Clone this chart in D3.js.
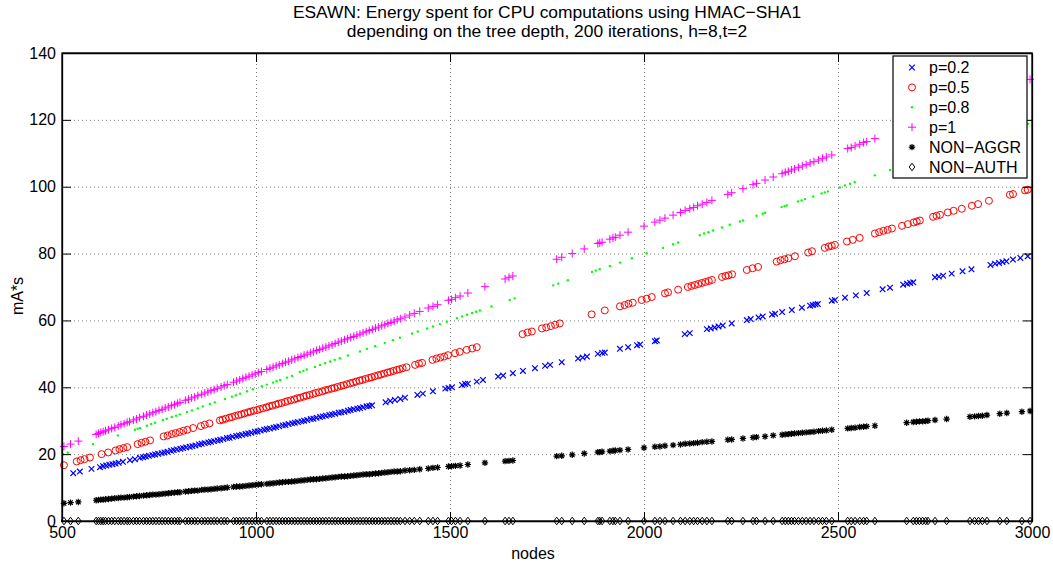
<!DOCTYPE html>
<html><head><meta charset="utf-8">
<script src="https://cdn.jsdelivr.net/npm/d3@7"></script>
<style>
body{margin:0;background:#fff}
svg{display:block}
text{font-family:"Liberation Sans",Arial,Helvetica,sans-serif;fill:#000}
</style>
</head><body>
<svg id="chart" width="1053" height="565"></svg>
<script>
// ---------------- DATA ----------------
const titleLines = ["ESAWN: Energy spent for CPU computations using HMAC\u2212SHA1",
                    "depending on the tree depth, 200 iterations, h=8,t=2"];
const xLabel = "nodes";
const yLabel = "mA*s";
const xTicks = [500, 1000, 1500, 2000, 2500, 3000];
const yTicks = [0, 20, 40, 60, 80, 100, 120, 140];
const seriesLabels = ["p=0.2", "p=0.5", "p=0.8", "p=1", "NON\u2212AGGR", "NON\u2212AUTH"];

// p=0.2
const nodesP02 = [
 529,546,576,598,606,614,622,630,638,646,
 657,675,688,701,709,716,724,733,740,748,
 757,764,772,781,788,796,805,812,820,829,
 836,844,853,860,868,877,884,892,901,908,
 916,925,932,940,949,956,964,973,980,988,
 997,1004,1012,1021,1028,1036,1045,1052,1060,1069,
 1076,1084,1093,1100,1108,1117,1124,1132,1141,1148,
 1156,1165,1172,1180,1189,1196,1204,1213,1220,1228,
 1237,1244,1252,1261,1268,1276,1285,1292,1299,1334,
 1346,1358,1372,1384,1416,1430,1456,1488,1496,1505,
 1531,1539,1546,1569,1585,1624,1637,1662,1688,1719,
 1745,1758,1788,1830,1842,1853,1881,1892,1899,1938,
 1959,1982,1990,2028,2033,2105,2118,2162,2172,2182,
 2192,2203,2226,2265,2275,2295,2306,2330,2338,2356,
 2381,2407,2428,2435,2442,2448,2484,2492,2518,2546,
 2574,2615,2634,2668,2678,2686,2694,2750,2760,2771,
 2793,2821,2844,2893,2905,2915,2924,2934,2951,2970,
 2989];
const valP02 = [
 14.3,14.8,15.6,16.1,16.4,16.6,16.8,17.0,17.2,17.4,
 17.7,18.2,18.5,18.9,19.1,19.3,19.5,19.7,19.9,20.1,
 20.3,20.5,20.7,21.0,21.2,21.4,21.6,21.8,22.0,22.2,
 22.4,22.6,22.9,23.1,23.3,23.5,23.7,23.9,24.1,24.3,
 24.5,24.8,24.9,25.2,25.4,25.6,25.8,26.0,26.2,26.4,
 26.7,26.8,27.1,27.3,27.5,27.7,27.9,28.1,28.3,28.6,
 28.7,29.0,29.2,29.4,29.6,29.8,30.0,30.2,30.5,30.6,
 30.9,31.1,31.3,31.5,31.7,31.9,32.1,32.4,32.5,32.7,
 33.0,33.2,33.4,33.6,33.8,34.0,34.3,34.4,34.6,35.5,
 35.9,36.2,36.5,36.9,37.7,38.1,38.8,39.6,39.8,40.0,
 40.7,41.0,41.1,41.7,42.2,43.2,43.5,44.2,44.9,45.7,
 46.4,46.7,47.5,48.6,48.9,49.2,50.0,50.3,50.4,51.5,
 52.0,52.6,52.8,53.8,54.0,55.9,56.2,57.4,57.6,57.9,
 58.2,58.5,59.1,60.1,60.4,60.9,61.2,61.8,62.0,62.5,
 63.1,63.8,64.4,64.6,64.8,64.9,65.9,66.1,66.8,67.5,
 68.2,69.3,69.8,70.7,71.0,71.2,71.4,72.9,73.1,73.4,
 74.0,74.7,75.3,76.6,77.0,77.2,77.5,77.7,78.2,78.7,
 79.2];

// p=0.5
const nodesP05 = [
 505,538,548,558,572,602,619,638,648,658,
 668,695,705,715,727,762,772,783,793,803,
 813,823,838,858,868,880,907,914,922,931,
 938,946,955,962,970,979,986,994,1003,1010,
 1018,1027,1034,1042,1051,1058,1066,1075,1082,1090,
 1099,1106,1114,1123,1130,1138,1147,1154,1162,1171,
 1178,1186,1195,1202,1210,1219,1226,1234,1243,1250,
 1258,1267,1274,1282,1291,1298,1306,1315,1322,1330,
 1339,1346,1354,1363,1370,1378,1388,1410,1420,1428,
 1455,1465,1475,1485,1495,1513,1525,1543,1557,1569,
 1687,1700,1711,1737,1748,1760,1771,1783,1865,1899,
 1938,1950,1960,1971,1994,2007,2020,2054,2062,2088,
 2113,2122,2131,2140,2149,2158,2167,2175,2201,2210,
 2218,2227,2265,2280,2294,2342,2352,2362,2372,2389,
 2423,2433,2466,2476,2484,2492,2523,2538,2556,2595,
 2606,2617,2628,2639,2665,2680,2695,2703,2711,2745,
 2754,2763,2783,2798,2819,2845,2861,2889,2943,2951,
 2982,2989];
const valP05 = [
 16.7,17.8,18.2,18.5,19.0,20.0,20.5,21.1,21.5,21.8,
 22.1,23.0,23.4,23.7,24.1,25.3,25.6,26.0,26.3,26.6,
 27.0,27.3,27.8,28.4,28.8,29.2,30.1,30.3,30.6,30.9,
 31.1,31.4,31.7,31.9,32.2,32.5,32.7,33.0,33.2,33.5,
 33.7,34.0,34.3,34.5,34.8,35.1,35.3,35.6,35.9,36.1,
 36.4,36.7,36.9,37.2,37.5,37.7,38.0,38.3,38.5,38.8,
 39.1,39.3,39.6,39.8,40.1,40.4,40.6,40.9,41.2,41.4,
 41.7,42.0,42.2,42.5,42.8,43.0,43.3,43.6,43.8,44.1,
 44.4,44.6,44.9,45.2,45.4,45.7,46.0,46.7,47.1,47.3,
 48.2,48.6,48.9,49.2,49.6,50.2,50.6,51.2,51.6,52.0,
 55.9,56.4,56.7,57.6,57.9,58.3,58.7,59.1,61.8,63.0,
 64.2,64.6,65.0,65.3,66.1,66.5,67.0,68.1,68.4,69.2,
 70.0,70.3,70.6,70.9,71.2,71.5,71.8,72.1,73.0,73.3,
 73.5,73.8,75.1,75.6,76.0,77.6,78.0,78.3,78.6,79.2,
 80.3,80.7,81.7,82.1,82.3,82.6,83.6,84.1,84.7,86.0,
 86.4,86.8,87.1,87.5,88.3,88.8,89.3,89.6,89.9,91.0,
 91.3,91.6,92.3,92.8,93.4,94.3,94.8,95.8,97.6,97.8,
 98.9,99.1];

// p=0.8
const nodesP08 = [
 503,515,580,644,688,695,701,719,730,740,
 760,770,783,794,804,822,835,850,863,881,
 894,920,938,948,959,977,992,1015,1028,1044,
 1053,1062,1080,1093,1113,1122,1131,1152,1165,1178,
 1191,1203,1216,1237,1268,1286,1307,1332,1353,1371,
 1402,1417,1441,1456,1474,1492,1518,1531,1544,1557,
 1567,1577,1607,1654,1667,1766,1779,1804,1866,1876,
 1886,1912,1938,1969,2007,2049,2075,2088,2144,2155,
 2166,2178,2201,2221,2247,2255,2290,2306,2312,2355,
 2362,2368,2397,2406,2415,2436,2458,2466,2474,2505,
 2518,2531,2543,2595,2634,2990];
const valP08 = [
 20.0,20.4,23.0,25.6,27.3,27.6,27.8,28.5,29.0,29.4,
 30.2,30.6,31.1,31.5,31.9,32.6,33.1,33.7,34.3,35.0,
 35.5,36.5,37.2,37.6,38.1,38.8,39.4,40.3,40.8,41.4,
 41.8,42.2,42.9,43.4,44.6,44.9,45.3,46.1,46.7,47.2,
 47.7,48.2,48.7,49.5,50.7,51.5,52.3,53.3,54.1,54.8,
 56.1,56.7,57.6,58.2,58.9,59.6,60.7,61.2,61.7,62.2,
 62.6,63.0,64.2,66.1,66.6,70.5,71.0,72.0,74.5,74.9,
 75.3,76.3,77.3,78.6,80.1,81.7,82.8,83.3,85.5,86.0,
 86.4,86.9,87.8,88.6,89.6,89.9,91.3,91.9,92.2,93.9,
 94.2,94.4,95.6,95.9,96.3,97.1,98.0,98.3,98.6,99.8,
 100.4,100.9,101.4,103.4,105.0,118.8];

// p=1, NON-AGGR and NON-AUTH share these node counts
const nodesAll = [
 505,522,542,588,594,600,606,612,620,628,
 636,645,652,660,668,674,684,692,700,710,
 718,726,734,742,750,758,766,774,782,790,
 798,804,818,826,834,842,850,860,868,876,
 884,892,900,910,918,926,942,950,958,966,
 974,982,990,998,1006,1014,1028,1036,1044,1052,
 1060,1068,1076,1084,1092,1100,1108,1116,1124,1132,
 1140,1148,1156,1164,1172,1180,1188,1196,1204,1212,
 1220,1228,1236,1244,1252,1260,1268,1276,1284,1292,
 1300,1308,1316,1324,1332,1340,1348,1356,1364,1372,
 1384,1396,1408,1422,1444,1456,1468,1496,1504,1514,
 1526,1546,1590,1642,1652,1662,1775,1788,1815,1846,
 1881,1886,1892,1912,1920,1926,1938,1959,2000,2028,
 2041,2054,2075,2094,2106,2118,2128,2138,2150,2162,
 2175,2216,2226,2255,2281,2290,2312,2333,2356,2364,
 2372,2380,2388,2398,2408,2418,2428,2438,2450,2460,
 2470,2484,2525,2534,2544,2556,2566,2574,2595,2677,
 2694,2702,2710,2718,2726,2732,2750,2780,2840,2852,
 2862,2872,2884,2917,2935,2974,2995];
const valP1 = [
 22.3,23.0,23.9,25.9,26.2,26.5,26.7,27.0,27.3,27.7,
 28.0,28.4,28.8,29.1,29.5,29.7,30.2,30.5,30.9,31.3,
 31.7,32.0,32.4,32.7,33.1,33.4,33.8,34.1,34.5,34.8,
 35.2,35.5,36.1,36.4,36.8,37.1,37.5,37.9,38.3,38.6,
 39.0,39.3,39.7,40.1,40.5,40.8,41.5,41.9,42.2,42.6,
 43.0,43.3,43.7,44.0,44.4,44.7,45.3,45.7,46.0,46.4,
 46.7,47.1,47.5,47.8,48.2,48.5,48.9,49.2,49.6,49.9,
 50.3,50.6,51.0,51.3,51.7,52.0,52.4,52.7,53.1,53.5,
 53.8,54.2,54.5,54.9,55.2,55.6,55.9,56.3,56.6,57.0,
 57.3,57.7,58.0,58.4,58.7,59.1,59.4,59.8,60.2,60.5,
 61.0,61.6,62.1,62.7,63.7,64.2,64.7,66.0,66.3,66.8,
 67.3,68.2,70.1,72.4,72.9,73.3,78.3,78.9,80.0,81.4,
 83.0,83.2,83.4,84.3,84.7,84.9,85.5,86.4,88.2,89.4,
 90.0,90.6,91.5,92.3,92.9,93.4,93.8,94.3,94.8,95.3,
 95.9,97.7,98.2,99.4,100.6,101.0,102.0,102.9,103.9,104.3,
 104.6,105.0,105.3,105.8,106.2,106.6,107.1,107.5,108.0,108.5,
 108.9,109.5,111.4,111.7,112.2,112.7,113.2,113.5,114.4,118.1,
 118.8,119.2,119.5,119.9,120.2,120.5,121.3,122.6,125.2,125.8,
 126.2,126.7,127.2,128.6,129.4,131.2,132.1];
const valNonAggr = [
 5.3,5.5,5.7,6.2,6.3,6.4,6.4,6.5,6.6,6.7,
 6.8,6.9,7.0,7.0,7.1,7.2,7.3,7.4,7.5,7.6,
 7.7,7.8,7.9,7.9,8.0,8.1,8.2,8.3,8.4,8.5,
 8.6,8.6,8.8,8.9,9.0,9.1,9.1,9.3,9.4,9.4,
 9.5,9.6,9.7,9.8,9.9,10.0,10.2,10.3,10.3,10.4,
 10.5,10.6,10.7,10.8,10.9,11.0,11.1,11.2,11.3,11.4,
 11.5,11.6,11.7,11.7,11.8,11.9,12.0,12.1,12.2,12.3,
 12.4,12.5,12.5,12.6,12.7,12.8,12.9,13.0,13.1,13.2,
 13.3,13.3,13.4,13.5,13.6,13.7,13.8,13.9,14.0,14.0,
 14.1,14.2,14.3,14.4,14.5,14.6,14.7,14.8,14.8,14.9,
 15.1,15.2,15.3,15.5,15.7,15.9,16.0,16.3,16.4,16.5,
 16.6,16.9,17.4,17.9,18.0,18.1,19.4,19.5,19.8,20.2,
 20.6,20.6,20.7,20.9,21.0,21.1,21.2,21.4,21.9,22.2,
 22.3,22.5,22.7,22.9,23.1,23.2,23.3,23.4,23.6,23.7,
 23.8,24.3,24.4,24.7,25.0,25.1,25.3,25.6,25.8,25.9,
 26.0,26.1,26.2,26.3,26.4,26.5,26.6,26.7,26.9,27.0,
 27.1,27.3,27.7,27.8,27.9,28.1,28.2,28.3,28.5,29.4,
 29.6,29.7,29.8,29.8,29.9,30.0,30.2,30.5,31.2,31.3,
 31.4,31.5,31.7,32.1,32.3,32.7,32.9];
const valNonAuth = [
 0,0,0,0,0,0,0,0,0,0,
 0,0,0,0,0,0,0,0,0,0,
 0,0,0,0,0,0,0,0,0,0,
 0,0,0,0,0,0,0,0,0,0,
 0,0,0,0,0,0,0,0,0,0,
 0,0,0,0,0,0,0,0,0,0,
 0,0,0,0,0,0,0,0,0,0,
 0,0,0,0,0,0,0,0,0,0,
 0,0,0,0,0,0,0,0,0,0,
 0,0,0,0,0,0,0,0,0,0,
 0,0,0,0,0,0,0,0,0,0,
 0,0,0,0,0,0,0,0,0,0,
 0,0,0,0,0,0,0,0,0,0,
 0,0,0,0,0,0,0,0,0,0,
 0,0,0,0,0,0,0,0,0,0,
 0,0,0,0,0,0,0,0,0,0,
 0,0,0,0,0,0,0,0,0,0,
 0,0,0,0,0,0,0,0,0,0,
 0,0,0,0,0,0,0];

// ---------------- CHART ----------------
const W = 1053, H = 565;
const plot = {left: 62, right: 1032, top: 53, bottom: 521};
const svg = d3.select("#chart");
svg.append("rect").attr("width", W).attr("height", H).attr("fill", "#fff");

const x = d3.scaleLinear().domain([xTicks[0], xTicks[xTicks.length-1]]).range([plot.left, plot.right]);
const y = d3.scaleLinear().domain([yTicks[0], yTicks[yTicks.length-1]]).range([plot.bottom, plot.top]);
const pw = plot.right - plot.left, ph = plot.bottom - plot.top;
const fmt = d3.format("d");

// grid
const grid = svg.append("g");
grid.append("g").attr("transform", `translate(0,${plot.bottom})`)
  .call(d3.axisBottom(x).tickValues(xTicks).tickSize(-ph).tickFormat(""))
  .call(g => g.select(".domain").remove())
  .call(g => g.selectAll("line").attr("stroke", "#808080").attr("stroke-dasharray", "1,3"));
grid.append("g").attr("transform", `translate(${plot.left},0)`)
  .call(d3.axisLeft(y).tickValues(yTicks).tickSize(-pw).tickFormat(""))
  .call(g => g.select(".domain").remove())
  .call(g => g.selectAll("line").attr("stroke", "#808080").attr("stroke-dasharray", "1,3"));

// markers
const R = 3.5, r = 1.2;
const markerPath = {
  "x": "M-2.8,-2.8L2.8,2.8M-2.8,2.8L2.8,-2.8",
  "o": `M${R},0A${R},${R} 0 1,1 ${-R},0A${R},${R} 0 1,1 ${R},0Z`,
  ".": `M${r},0A${r},${r} 0 1,1 ${-r},0A${r},${r} 0 1,1 ${r},0Z`,
  "+": "M-4,0H4M0,-4V4",
  "*": "M-3.2,0H3.2M0,-3.2V3.2M-2.3,-2.3L2.3,2.3M-2.3,2.3L2.3,-2.3",
  "d": "M0,-3.8L2.8,0L0,3.8L-2.8,0Z"
};
const series = [
  {label: seriesLabels[0], xs: nodesP02, ys: valP02, m: "x", c: "#0000ff"},
  {label: seriesLabels[1], xs: nodesP05, ys: valP05, m: "o", c: "#ff0000"},
  {label: seriesLabels[2], xs: nodesP08, ys: valP08, m: ".", c: "#00ff00"},
  {label: seriesLabels[3], xs: nodesAll, ys: valP1, m: "+", c: "#ff00ff"},
  {label: seriesLabels[4], xs: nodesAll, ys: valNonAggr, m: "*", c: "#000000"},
  {label: seriesLabels[5], xs: nodesAll, ys: valNonAuth, m: "d", c: "#000000"}
];
function styleMarker(sel, s) {
  sel.attr("d", markerPath[s.m])
     .attr("fill", s.m === "." ? s.c : "none")
     .attr("stroke", s.m === "." ? "none" : s.c)
     .attr("stroke-width", s.m === "x" || s.m === "*" ? 1.2 : 1);
}
series.forEach(s => {
  const n = Math.min(s.xs.length, s.ys.length);
  const pts = d3.range(n).map(i => [s.xs[i], s.ys[i]]);
  svg.append("g").selectAll("path").data(pts).join("path")
    .attr("transform", d => `translate(${x(d[0])},${y(d[1])})`)
    .call(styleMarker, s);
});

// axes (box with inward ticks)
const tk = 9;
const fs = "16px";
svg.append("g").attr("transform", `translate(0,${plot.bottom})`)
  .call(d3.axisBottom(x).tickValues(xTicks).tickFormat(fmt).tickSize(-tk).tickSizeOuter(0).tickPadding(6))
  .call(g => g.selectAll("text").attr("font-size", fs).attr("font-family", null));
svg.append("g").attr("transform", `translate(0,${plot.top})`)
  .call(d3.axisTop(x).tickValues(xTicks).tickSize(-tk).tickSizeOuter(0).tickFormat(""));
svg.append("g").attr("transform", `translate(${plot.left},0)`)
  .call(d3.axisLeft(y).tickValues(yTicks).tickFormat(fmt).tickSize(-tk).tickSizeOuter(0).tickPadding(6))
  .call(g => g.selectAll("text").attr("font-size", fs).attr("font-family", null));
svg.append("g").attr("transform", `translate(${plot.right},0)`)
  .call(d3.axisRight(y).tickValues(yTicks).tickSize(-tk).tickSizeOuter(0).tickFormat(""));
svg.selectAll(".domain").attr("stroke", "#000").attr("stroke-width", 1.3);
svg.append("rect").attr("x", plot.left).attr("y", plot.top).attr("width", pw).attr("height", ph)
  .attr("fill", "none").attr("stroke", "#000").attr("stroke-width", 1.3);

// titles and labels
svg.append("g").selectAll("text").data(titleLines).join("text")
  .attr("x", (plot.left + plot.right) / 2).attr("y", (d, i) => 18 + i * 19)
  .attr("text-anchor", "middle").attr("font-size", "17.4px").text(d => d);
svg.append("text").attr("x", 533).attr("y", 559)
  .attr("text-anchor", "middle").attr("font-size", fs).text(xLabel);
svg.append("text").attr("transform", `translate(23,296) rotate(-90)`)
  .attr("text-anchor", "middle").attr("font-size", fs).text(yLabel);

// legend
const lg = svg.append("g").attr("transform", "translate(893,56)");
lg.append("rect").attr("width", 134).attr("height", 122).attr("fill", "#fff")
  .attr("stroke", "#000").attr("stroke-width", 1.2);
series.forEach((s, i) => {
  const yy = 11.5 + i * 19.9;
  lg.append("path").attr("transform", `translate(19,${yy})`).call(styleMarker, s);
  lg.append("text").attr("x", 36).attr("y", yy).attr("dy", "0.36em")
    .attr("font-size", fs).text(s.label);
});
</script>
</body></html>
